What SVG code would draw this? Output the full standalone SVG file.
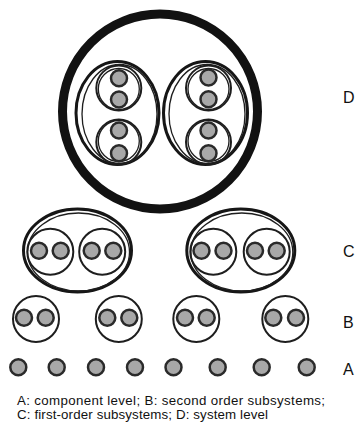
<svg xmlns="http://www.w3.org/2000/svg" width="356" height="424" viewBox="0 0 356 424">
<style>
.dot{fill:#a8a8a8;stroke:#2a2a2a;stroke-width:2.5}
.ring{fill:none;stroke:#1e1e1e;stroke-width:2}
.ring2{fill:none;stroke:#1e1e1e;stroke-width:1.3}
.ell{fill:none;stroke:#161616;stroke-width:3}
.big{fill:none;stroke:#121212;stroke-width:9}
.lbl{font-family:"Liberation Sans",Arial,sans-serif;font-size:16px;fill:#111}
.cap{font-family:"Liberation Sans",Arial,sans-serif;font-size:13.3px;fill:#111}
</style>
<rect width="356" height="424" fill="#fff"/>
<g id="D">
  <circle class="big" cx="160" cy="111.5" r="97.5"/>
  <g id="D-left">
    <ellipse class="ell" cx="117.5" cy="113" rx="41.5" ry="51.5"/>
    <ellipse class="ring2" cx="119.5" cy="114" rx="37.5" ry="49.5"/>
    <circle class="ring" cx="118.8" cy="88" r="22.5"/>
    <circle class="ring2" cx="118.8" cy="89" r="20.5"/>
    <circle class="dot" cx="119" cy="78.3" r="8"/>
    <circle class="dot" cx="119" cy="99.5" r="8"/>
    <circle class="ring" cx="118.8" cy="142" r="22.5"/>
    <circle class="ring2" cx="118.8" cy="141" r="20.5"/>
    <circle class="dot" cx="119" cy="130.5" r="8"/>
    <circle class="dot" cx="119" cy="153.3" r="8"/>
  </g>
  <g id="D-right">
    <ellipse class="ell" cx="205.5" cy="113" rx="42" ry="51.5"/>
    <ellipse class="ring2" cx="207" cy="114" rx="38" ry="49.5"/>
    <circle class="ring" cx="208.5" cy="88" r="22.5"/>
    <circle class="ring2" cx="208.5" cy="89" r="20.5"/>
    <circle class="dot" cx="208.5" cy="77.5" r="8"/>
    <circle class="dot" cx="208.5" cy="99.3" r="8"/>
    <circle class="ring" cx="208.5" cy="142" r="22.5"/>
    <circle class="ring2" cx="208.5" cy="141" r="20.5"/>
    <circle class="dot" cx="208.5" cy="130.5" r="8"/>
    <circle class="dot" cx="208.5" cy="153.3" r="8"/>
  </g>
</g>
<g id="C1">
  <ellipse class="ell" cx="77.5" cy="250.5" rx="54" ry="41.5"/>
  <ellipse class="ring2" cx="78.5" cy="252" rx="51" ry="39"/>
  <circle class="ring" cx="50.3" cy="251.7" r="23"/>
  <circle class="dot" cx="39" cy="250.7" r="8"/>
  <circle class="dot" cx="60.7" cy="250.7" r="8"/>
  <circle class="ring" cx="102.2" cy="251.7" r="23"/>
  <circle class="dot" cx="91.7" cy="250.7" r="8"/>
  <circle class="dot" cx="113.3" cy="250.7" r="8"/>
</g>
<g id="C2">
  <ellipse class="ell" cx="240.8" cy="250.5" rx="54" ry="41.5"/>
  <ellipse class="ring2" cx="241.8" cy="252" rx="51" ry="39"/>
  <circle class="ring" cx="213.3" cy="251.7" r="23"/>
  <circle class="dot" cx="201.5" cy="250.7" r="8"/>
  <circle class="dot" cx="223.5" cy="250.7" r="8"/>
  <circle class="ring" cx="266.7" cy="251.7" r="23"/>
  <circle class="dot" cx="255" cy="250.7" r="8"/>
  <circle class="dot" cx="276.7" cy="250.7" r="8"/>
</g>
<g id="B1">
  <circle class="ring" cx="36" cy="319" r="23"/>
  <circle class="dot" cx="24" cy="317.7" r="8"/>
  <circle class="dot" cx="45.7" cy="317.7" r="8"/>
</g>
<g id="B2">
  <circle class="ring" cx="118.8" cy="319" r="23"/>
  <circle class="dot" cx="107.3" cy="317.7" r="8"/>
  <circle class="dot" cx="129.3" cy="317.7" r="8"/>
</g>
<g id="B3">
  <circle class="ring" cx="196.3" cy="319" r="23"/>
  <circle class="dot" cx="185" cy="317.7" r="8"/>
  <circle class="dot" cx="206.7" cy="317.7" r="8"/>
</g>
<g id="B4">
  <circle class="ring" cx="285.3" cy="319" r="23"/>
  <circle class="dot" cx="273.3" cy="317.7" r="8"/>
  <circle class="dot" cx="296" cy="317.7" r="8"/>
</g>
<g id="A">
  <circle class="dot" cx="18.3" cy="367.3" r="8"/>
  <circle class="dot" cx="56.7" cy="367.3" r="8"/>
  <circle class="dot" cx="96" cy="367.3" r="8"/>
  <circle class="dot" cx="135" cy="367.3" r="8"/>
  <circle class="dot" cx="173.5" cy="367.3" r="8"/>
  <circle class="dot" cx="217.7" cy="367.3" r="8"/>
  <circle class="dot" cx="261.7" cy="367.3" r="8"/>
  <circle class="dot" cx="306.7" cy="367.3" r="8"/>
</g>
<g id="labels">
  <text class="lbl" x="343" y="103">D</text>
  <text class="lbl" x="343" y="257">C</text>
  <text class="lbl" x="343" y="328">B</text>
  <text class="lbl" x="343" y="375">A</text>
  <text class="cap" x="17" y="405" textLength="308" lengthAdjust="spacing">A: component level; B: second order subsystems;</text>
  <text class="cap" x="17" y="419" textLength="251" lengthAdjust="spacing">C: first-order subsystems; D: system level</text>
</g>
<g id="connectors"/>
</svg>
